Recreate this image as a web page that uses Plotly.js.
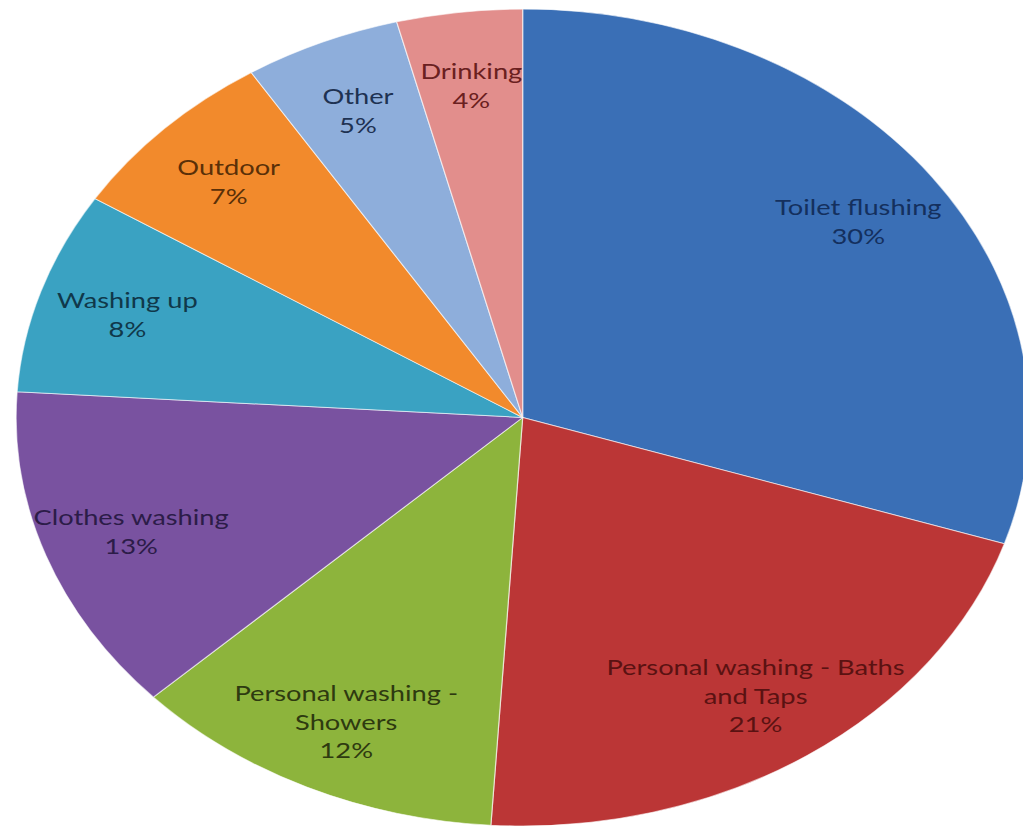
<!DOCTYPE html>
<html>
<head>
<meta charset="utf-8">
<script src="https://cdn.plot.ly/plotly-3.0.1.min.js"></script>
<style>
html,body{margin:0;padding:0;background:#fff;overflow:hidden;width:1023px;height:827px;}
#wrap{width:1023px;height:827px;overflow:hidden;position:relative;}
#chart{width:832px;height:827px;transform:scaleX(1.24);transform-origin:0 0;position:absolute;left:0;top:0;}
</style>
</head>
<body>
<div id="wrap"><div id="chart"></div></div>
<script>
const categories = ["Toilet flushing", "Personal washing - Baths<br>and Taps", "Personal washing -<br>Showers", "Clothes washing", "Washing up", "Outdoor", "Other", "Drinking"];
const values = [30, 21, 12, 13, 8, 7, 5, 4];
const sliceColors = ["#3a6fb6", "#bb3636", "#8db43c", "#7952a0", "#3aa2c2", "#f28a2c", "#8eaedb", "#e28e8c"];
const textColors = ["#14305e", "#5a1212", "#2e3a10", "#2c1c48", "#10384a", "#5a3008", "#1e3252", "#6a2020"];

const LABEL_RADIUS = 0.82; // fraction of pie radius where labels sit
const total = values.reduce((a, b) => a + b, 0);
let cum = 0;
const annotations = values.map((v, i) => {
  const mid = (cum + v / 2) / total * 2 * Math.PI;
  cum += v;
  return {
    xref: "paper", yref: "paper",
    x: 0.5 + LABEL_RADIUS * 0.5 * Math.sin(mid),
    y: 0.5 + LABEL_RADIUS * 0.5 * Math.cos(mid),
    xanchor: "center", yanchor: "middle",
    text: categories[i] + "<br>" + Math.round(v / total * 100) + "%",
    showarrow: false,
    align: "center",
    font: {family: "Lato, 'Open Sans', sans-serif", size: 22, color: textColors[i]}
  };
});

const data = [{
  type: "pie",
  labels: categories,
  values: values,
  sort: false,
  direction: "clockwise",
  rotation: 0,
  marker: {colors: sliceColors, line: {color: "rgba(255,255,255,0.6)", width: 1}},
  textinfo: "none",
  hoverinfo: "label+percent",
  showlegend: false
}];

const layout = {
  width: 832, height: 827,
  margin: {l: 13, r: 2, t: 9, b: 1},
  paper_bgcolor: "#ffffff",
  showlegend: false,
  annotations: annotations
};

Plotly.newPlot("chart", data, layout, {displayModeBar: false, staticPlot: true});
</script>
</body>
</html>
